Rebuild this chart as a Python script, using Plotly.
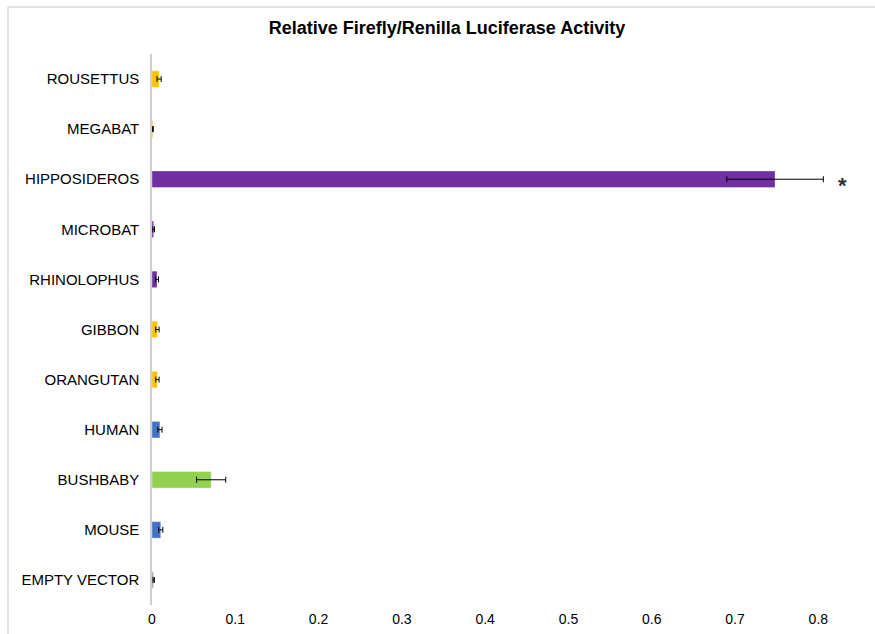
import plotly.graph_objects as go

# Constructs, listed from top to bottom of the chart
constructs = ["ROUSETTUS", "MEGABAT", "HIPPOSIDEROS", "MICROBAT", "RHINOLOPHUS",
              "GIBBON", "ORANGUTAN", "HUMAN", "BUSHBABY", "MOUSE", "EMPTY VECTOR"]
activity = [0.0085, 0.001, 0.748, 0.002, 0.006, 0.0065, 0.0065, 0.0095, 0.071, 0.0105, 0.002]
error = [0.0025, 0.0005, 0.058, 0.001, 0.0018, 0.002, 0.002, 0.0025, 0.0175, 0.0025, 0.0008]
bar_colors = ["#FFC000", "#FFC000", "#7030A0", "#7030A0", "#7030A0",
              "#FFC000", "#FFC000", "#4472C4", "#92D050", "#4472C4", "#A5A5A5"]
x_ticks = [0, 0.1, 0.2, 0.3, 0.4, 0.5, 0.6, 0.7, 0.8]
significant = ["HIPPOSIDEROS"]

FONT = "Liberation Sans, Arial, sans-serif"

fig = go.Figure(go.Bar(
    y=constructs,
    x=activity,
    orientation="h",
    width=0.33,
    marker=dict(color=bar_colors, line=dict(color="rgba(255,255,255,0.35)", width=1)),
    error_x=dict(type="data", array=error, visible=True, color="#000000",
                 thickness=1, width=3),
    showlegend=False,
))

# Significance marker beside the flagged bar
for name in significant:
    i = constructs.index(name)
    fig.add_annotation(x=activity[i] + error[i] + 0.023, y=name, text="<b>*</b>",
                       showarrow=False, font=dict(family=FONT, size=22, color="#333333"),
                       yshift=-6, xref="x", yref="y")

L, R, T, B = 152, 15, 54, 29
W, H = 875, 634
pw = W - L - R
ph = H - T - B

# Light grey chart frame (left and top edges; the rest runs off the page)
fx0 = (8 - L) / pw
fy1 = (H - 7 - B) / ph
fig.add_shape(type="line", xref="paper", yref="paper", x0=fx0, x1=fx0,
              y0=-(B + 10) / ph, y1=fy1, line=dict(color="#D9D9D9", width=1.5))
fig.add_shape(type="line", xref="paper", yref="paper", x0=fx0, x1=(W + 10 - L) / pw,
              y0=fy1, y1=fy1, line=dict(color="#D9D9D9", width=1.5))

fig.update_layout(
    width=W, height=H,
    margin=dict(l=L, r=R, t=T, b=B, autoexpand=False),
    paper_bgcolor="white", plot_bgcolor="white",
    title=dict(text="<b>Relative Firefly/Renilla Luciferase Activity</b>",
               x=(447 - L) / pw, xref="paper", xanchor="center",
               y=1 - 28 / H, yanchor="middle",
               font=dict(family=FONT, size=18, color="#000000")),
    font=dict(family=FONT, size=14, color="#000000"),
    bargap=0.67,
)
fig.update_xaxes(range=[0, 0.85], tickvals=x_ticks, ticktext=[f"{v:g}" for v in x_ticks],
                 showgrid=False, zeroline=False, showline=False, ticks="",
                 tickfont=dict(size=14), ticklabelstandoff=4, automargin=False)
fig.update_yaxes(autorange="reversed", showline=True, linecolor="#D0D0D0", linewidth=1.5,
                 ticks="", showgrid=False, tickfont=dict(size=15), ticklabelstandoff=8,
                 automargin=False)

fig.write_html("out.html")
